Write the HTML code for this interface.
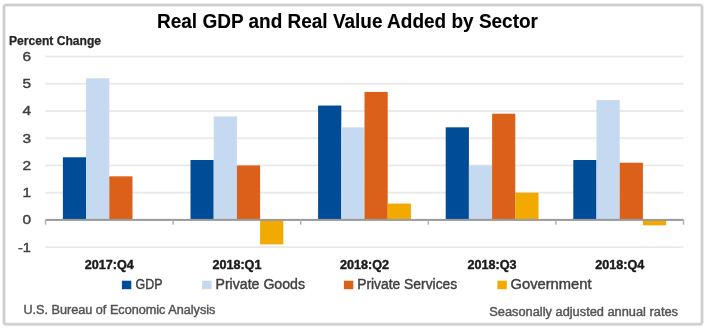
<!DOCTYPE html>
<html><head><meta charset="utf-8"><style>
html,body{margin:0;padding:0;background:#fff;width:710px;height:330px;overflow:hidden}
svg{position:absolute;left:0;top:0;filter:blur(0.5px)}
text{font-family:"Liberation Sans",sans-serif}
.title{font-weight:bold;font-size:19.6px;fill:#000;stroke:#000;stroke-width:0.12px}
.pc{font-weight:bold;font-size:11.9px;fill:#262626;stroke:#262626;stroke-width:0.25px}
.yl{font-size:13.2px;fill:#404040;stroke:#404040;stroke-width:0.4px}
.cl{font-weight:bold;font-size:12.1px;fill:#1a1a1a;stroke:#1a1a1a;stroke-width:0.4px}
.lg{font-size:13.8px;fill:#404040;stroke:#404040;stroke-width:0.4px}
.ft{font-size:12px;fill:#555;stroke:#555;stroke-width:0.42px}
</style></head><body>
<svg width="710" height="330" viewBox="0 0 710 330">
<rect x="0" y="0" width="710" height="330" fill="#fff"/>
<rect x="4" y="5" width="698" height="319.3" rx="2.5" ry="2.5" fill="#fff" stroke="#ededed" stroke-width="4"/>
<rect x="4" y="5" width="698" height="319.3" rx="2" ry="2" fill="none" stroke="#cdcdcd" stroke-width="2"/>
<text x="157" y="28.1" class="title" textLength="381" lengthAdjust="spacingAndGlyphs">Real GDP and Real Value Added by Sector</text>
<text x="9" y="45.4" class="pc" textLength="92" lengthAdjust="spacingAndGlyphs">Percent Change</text>
<rect x="45.50" y="55.62" width="638.00" height="1.8" fill="#e9e9e9"/>
<rect x="45.50" y="82.85" width="638.00" height="1.8" fill="#e9e9e9"/>
<rect x="45.50" y="110.08" width="638.00" height="1.8" fill="#e9e9e9"/>
<rect x="45.50" y="137.31" width="638.00" height="1.8" fill="#e9e9e9"/>
<rect x="45.50" y="164.54" width="638.00" height="1.8" fill="#e9e9e9"/>
<rect x="45.50" y="191.77" width="638.00" height="1.8" fill="#e9e9e9"/>
<rect x="45.50" y="246.23" width="638.00" height="1.8" fill="#e9e9e9"/>
<rect x="62.90" y="157.27" width="23.20" height="62.63" fill="#004c97"/>
<rect x="86.10" y="78.30" width="23.20" height="141.60" fill="#c5d9f0"/>
<rect x="109.30" y="176.33" width="23.20" height="43.57" fill="#db611b"/>
<rect x="190.50" y="159.99" width="23.20" height="59.91" fill="#004c97"/>
<rect x="213.70" y="116.43" width="23.20" height="103.47" fill="#c5d9f0"/>
<rect x="236.90" y="165.44" width="23.20" height="54.46" fill="#db611b"/>
<rect x="260.10" y="219.90" width="23.20" height="24.51" fill="#f2aa00"/>
<rect x="318.10" y="105.53" width="23.20" height="114.37" fill="#004c97"/>
<rect x="341.30" y="127.32" width="23.20" height="92.58" fill="#c5d9f0"/>
<rect x="364.50" y="91.92" width="23.20" height="127.98" fill="#db611b"/>
<rect x="387.70" y="203.56" width="23.20" height="16.34" fill="#f2aa00"/>
<rect x="445.70" y="127.32" width="23.20" height="92.58" fill="#004c97"/>
<rect x="468.90" y="165.44" width="23.20" height="54.46" fill="#c5d9f0"/>
<rect x="492.10" y="113.70" width="23.20" height="106.20" fill="#db611b"/>
<rect x="515.30" y="192.67" width="23.20" height="27.23" fill="#f2aa00"/>
<rect x="573.30" y="159.99" width="23.20" height="59.91" fill="#004c97"/>
<rect x="596.50" y="100.09" width="23.20" height="119.81" fill="#c5d9f0"/>
<rect x="619.70" y="162.72" width="23.20" height="57.18" fill="#db611b"/>
<rect x="642.90" y="219.90" width="23.20" height="5.45" fill="#f2aa00"/>
<rect x="45.50" y="218.90" width="638.00" height="2" fill="#9a9a9a"/>
<rect x="44.75" y="219.90" width="1.5" height="4.8" fill="#b0b0b0"/>
<rect x="172.35" y="219.90" width="1.5" height="4.8" fill="#b0b0b0"/>
<rect x="299.95" y="219.90" width="1.5" height="4.8" fill="#b0b0b0"/>
<rect x="427.55" y="219.90" width="1.5" height="4.8" fill="#b0b0b0"/>
<rect x="555.15" y="219.90" width="1.5" height="4.8" fill="#b0b0b0"/>
<rect x="682.75" y="219.90" width="1.5" height="4.8" fill="#b0b0b0"/>
<text x="31" y="60.92" text-anchor="end" class="yl" textLength="8.6" lengthAdjust="spacingAndGlyphs">6</text>
<text x="31" y="88.15" text-anchor="end" class="yl" textLength="8.6" lengthAdjust="spacingAndGlyphs">5</text>
<text x="31" y="115.38" text-anchor="end" class="yl" textLength="8.6" lengthAdjust="spacingAndGlyphs">4</text>
<text x="31" y="142.61" text-anchor="end" class="yl" textLength="8.6" lengthAdjust="spacingAndGlyphs">3</text>
<text x="31" y="169.84" text-anchor="end" class="yl" textLength="8.6" lengthAdjust="spacingAndGlyphs">2</text>
<text x="31" y="197.07" text-anchor="end" class="yl" textLength="8.6" lengthAdjust="spacingAndGlyphs">1</text>
<text x="31" y="224.30" text-anchor="end" class="yl" textLength="8.6" lengthAdjust="spacingAndGlyphs">0</text>
<text x="31" y="251.53" text-anchor="end" class="yl" textLength="13" lengthAdjust="spacingAndGlyphs">-1</text>
<text x="109.30" y="269" text-anchor="middle" class="cl" textLength="49" lengthAdjust="spacingAndGlyphs">2017:Q4</text>
<text x="236.90" y="269" text-anchor="middle" class="cl" textLength="49" lengthAdjust="spacingAndGlyphs">2018:Q1</text>
<text x="364.50" y="269" text-anchor="middle" class="cl" textLength="49" lengthAdjust="spacingAndGlyphs">2018:Q2</text>
<text x="492.10" y="269" text-anchor="middle" class="cl" textLength="49" lengthAdjust="spacingAndGlyphs">2018:Q3</text>
<text x="619.70" y="269" text-anchor="middle" class="cl" textLength="49" lengthAdjust="spacingAndGlyphs">2018:Q4</text>
<rect x="121.9" y="280.7" width="9.4" height="8.5" fill="#004c97"/>
<text x="135.5" y="289.2" class="lg" textLength="27" lengthAdjust="spacingAndGlyphs">GDP</text>
<rect x="202.1" y="280.7" width="9.4" height="8.5" fill="#c5d9f0"/>
<text x="215.5" y="289.2" class="lg" textLength="89.5" lengthAdjust="spacingAndGlyphs">Private Goods</text>
<rect x="343.9" y="280.7" width="9.4" height="8.5" fill="#db611b"/>
<text x="357.2" y="289.2" class="lg" textLength="100" lengthAdjust="spacingAndGlyphs">Private Services</text>
<rect x="497.4" y="280.7" width="9.4" height="8.5" fill="#f2aa00"/>
<text x="510.5" y="289.2" class="lg" textLength="81" lengthAdjust="spacingAndGlyphs">Government</text>
<text x="23.4" y="314.4" class="ft" textLength="192" lengthAdjust="spacingAndGlyphs">U.S. Bureau of Economic Analysis</text>
<text x="489.3" y="316" class="ft" textLength="188.7" lengthAdjust="spacingAndGlyphs">Seasonally adjusted annual rates</text>
</svg>
</body></html>
